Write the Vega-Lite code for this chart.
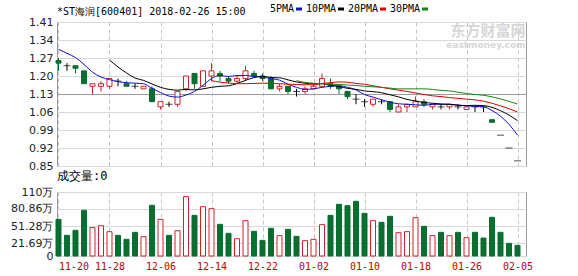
{
  "$schema": "https://vega.github.io/schema/vega-lite/v6.json",
  "background": "white",
  "padding": {"left": 10, "top": 4, "right": 5, "bottom": 2},
  "bounds": "flush",
  "spacing": 26,
  "config": {
    "view": {"stroke": "#9a9a9a", "strokeWidth": 1},
    "axisY": {"domain": false, "ticks": false, "labelPadding": 4, "labelFont": "DejaVu Sans", "labelFontSize": 11, "labelColor": "#222", "gridColor": "#d8d8d8", "title": null, "labelOverlap": false, "labelBound": false}
  },
  "data": {"values": [
    {"d":"2017-11-20","o":1.26,"h":1.27,"l":1.22,"c":1.25,"v":63.0,"dir":"down","5PMA":1.304,"10PMA":1.327,"20PMA":1.356,"30PMA":1.394},
    {"d":"2017-11-21","o":1.24,"h":1.25,"l":1.22,"c":1.24,"v":35.5,"dir":"flat","5PMA":1.288},
    {"d":"2017-11-22","o":1.24,"h":1.24,"l":1.21,"c":1.23,"v":44.1,"dir":"down","5PMA":1.272,"10PMA":1.312},
    {"d":"2017-11-23","o":1.22,"h":1.22,"l":1.17,"c":1.17,"v":78.5,"dir":"down","5PMA":1.245,"20PMA":1.327,"30PMA":1.367},
    {"d":"2017-11-24","o":1.16,"h":1.17,"l":1.13,"c":1.17,"v":48.7,"dir":"up","5PMA":1.215,"10PMA":1.290},
    {"d":"2017-11-27","o":1.16,"h":1.18,"l":1.14,"c":1.17,"v":52.1,"dir":"up","5PMA":1.196},
    {"d":"2017-11-28","o":1.16,"h":1.19,"l":1.15,"c":1.19,"v":41.8,"dir":"up","5PMA":1.186,"10PMA":1.262,"20PMA":1.298,"30PMA":1.340},
    {"d":"2017-11-29","o":1.18,"h":1.19,"l":1.16,"c":1.18,"v":35.5,"dir":"flat","5PMA":1.178,"10PMA":1.235},
    {"d":"2017-11-30","o":1.17,"h":1.18,"l":1.16,"c":1.16,"v":28.7,"dir":"down","5PMA":1.174,"10PMA":1.212},
    {"d":"2017-12-01","o":1.16,"h":1.17,"l":1.15,"c":1.16,"v":40.7,"dir":"flat","5PMA":1.172,"10PMA":1.192,"20PMA":1.272,"30PMA":1.317},
    {"d":"2017-12-04","o":1.15,"h":1.16,"l":1.15,"c":1.16,"v":33.2,"dir":"up","5PMA":1.170,"10PMA":1.183},
    {"d":"2017-12-05","o":1.15,"h":1.16,"l":1.10,"c":1.10,"v":87.1,"dir":"down","5PMA":1.152,"10PMA":1.169},
    {"d":"2017-12-06","o":1.08,"h":1.10,"l":1.07,"c":1.10,"v":63.0,"dir":"up","5PMA":1.136,"10PMA":1.156,"20PMA":1.245,"30PMA":1.293},
    {"d":"2017-12-07","o":1.09,"h":1.10,"l":1.08,"c":1.09,"v":35.5,"dir":"flat","5PMA":1.122,"10PMA":1.148},
    {"d":"2017-12-08","o":1.09,"h":1.14,"l":1.08,"c":1.14,"v":43.5,"dir":"up","5PMA":1.118,"10PMA":1.145,"20PMA":1.222,"30PMA":1.272},
    {"d":"2017-12-11","o":1.15,"h":1.20,"l":1.14,"c":1.20,"v":102.0,"dir":"up","5PMA":1.126,"10PMA":1.148},
    {"d":"2017-12-12","o":1.21,"h":1.21,"l":1.15,"c":1.17,"v":69.9,"dir":"down","5PMA":1.140,"10PMA":1.146,"20PMA":1.198,"30PMA":1.252},
    {"d":"2017-12-13","o":1.16,"h":1.22,"l":1.16,"c":1.22,"v":84.8,"dir":"up","5PMA":1.164,"10PMA":1.150},
    {"d":"2017-12-14","o":1.20,"h":1.25,"l":1.18,"c":1.22,"v":81.4,"dir":"up","5PMA":1.190,"10PMA":1.156,"20PMA":1.182,"30PMA":1.236},
    {"d":"2017-12-15","o":1.21,"h":1.22,"l":1.18,"c":1.20,"v":54.4,"dir":"down","5PMA":1.202,"10PMA":1.160,"20PMA":1.176},
    {"d":"2017-12-18","o":1.19,"h":1.20,"l":1.17,"c":1.18,"v":39.0,"dir":"down","5PMA":1.198,"10PMA":1.162,"20PMA":1.173,"30PMA":1.226},
    {"d":"2017-12-19","o":1.18,"h":1.20,"l":1.17,"c":1.19,"v":29.8,"dir":"up","5PMA":1.202,"10PMA":1.171,"20PMA":1.170},
    {"d":"2017-12-20","o":1.19,"h":1.24,"l":1.18,"c":1.22,"v":60.7,"dir":"up","5PMA":1.202,"10PMA":1.183,"20PMA":1.170,"30PMA":1.216},
    {"d":"2017-12-21","o":1.21,"h":1.22,"l":1.20,"c":1.20,"v":42.4,"dir":"down","5PMA":1.198,"10PMA":1.194,"20PMA":1.171},
    {"d":"2017-12-22","o":1.20,"h":1.21,"l":1.18,"c":1.19,"v":26.9,"dir":"down","5PMA":1.196,"10PMA":1.199,"20PMA":1.172,"30PMA":1.203},
    {"d":"2017-12-25","o":1.19,"h":1.20,"l":1.15,"c":1.15,"v":47.6,"dir":"down","5PMA":1.190,"10PMA":1.194,"20PMA":1.171},
    {"d":"2017-12-26","o":1.15,"h":1.17,"l":1.14,"c":1.16,"v":35.0,"dir":"up","5PMA":1.184,"10PMA":1.193,"20PMA":1.170,"30PMA":1.192},
    {"d":"2017-12-27","o":1.16,"h":1.16,"l":1.13,"c":1.14,"v":45.8,"dir":"down","5PMA":1.168,"10PMA":1.185,"20PMA":1.168},
    {"d":"2017-12-28","o":1.14,"h":1.15,"l":1.12,"c":1.14,"v":33.8,"dir":"flat","5PMA":1.156,"10PMA":1.177,"20PMA":1.167,"30PMA":1.182},
    {"d":"2017-12-29","o":1.14,"h":1.16,"l":1.13,"c":1.15,"v":26.4,"dir":"up","5PMA":1.148,"10PMA":1.172,"20PMA":1.166,"30PMA":1.175},
    {"d":"2018-01-02","o":1.15,"h":1.17,"l":1.15,"c":1.16,"v":28.7,"dir":"up","5PMA":1.150,"10PMA":1.170,"20PMA":1.166,"30PMA":1.172},
    {"d":"2018-01-03","o":1.16,"h":1.21,"l":1.16,"c":1.19,"v":53.9,"dir":"up","5PMA":1.156,"10PMA":1.170,"20PMA":1.171,"30PMA":1.170},
    {"d":"2018-01-04","o":1.17,"h":1.19,"l":1.15,"c":1.16,"v":69.9,"dir":"down","5PMA":1.160,"10PMA":1.164,"20PMA":1.174,"30PMA":1.168},
    {"d":"2018-01-05","o":1.16,"h":1.16,"l":1.13,"c":1.15,"v":88.8,"dir":"down","5PMA":1.162,"10PMA":1.159,"20PMA":1.177,"30PMA":1.167},
    {"d":"2018-01-08","o":1.14,"h":1.14,"l":1.11,"c":1.12,"v":86.5,"dir":"down","5PMA":1.156,"10PMA":1.152,"20PMA":1.176,"30PMA":1.165},
    {"d":"2018-01-09","o":1.11,"h":1.13,"l":1.09,"c":1.11,"v":94.0,"dir":"flat","5PMA":1.146,"10PMA":1.148,"20PMA":1.171,"30PMA":1.163},
    {"d":"2018-01-10","o":1.10,"h":1.11,"l":1.08,"c":1.10,"v":73.3,"dir":"flat","5PMA":1.128,"10PMA":1.142,"20PMA":1.168,"30PMA":1.160},
    {"d":"2018-01-11","o":1.09,"h":1.11,"l":1.08,"c":1.11,"v":60.7,"dir":"up","5PMA":1.118,"10PMA":1.139,"20PMA":1.162,"30PMA":1.158},
    {"d":"2018-01-12","o":1.10,"h":1.11,"l":1.09,"c":1.10,"v":57.9,"dir":"flat","5PMA":1.108,"10PMA":1.135,"20PMA":1.156,"30PMA":1.156},
    {"d":"2018-01-15","o":1.10,"h":1.10,"l":1.06,"c":1.07,"v":68.2,"dir":"down","5PMA":1.098,"10PMA":1.127,"20PMA":1.150,"30PMA":1.153},
    {"d":"2018-01-16","o":1.06,"h":1.09,"l":1.06,"c":1.08,"v":40.1,"dir":"up","5PMA":1.092,"10PMA":1.119,"20PMA":1.145,"30PMA":1.150},
    {"d":"2018-01-17","o":1.08,"h":1.09,"l":1.06,"c":1.09,"v":41.8,"dir":"up","5PMA":1.090,"10PMA":1.109,"20PMA":1.140,"30PMA":1.150},
    {"d":"2018-01-18","o":1.08,"h":1.12,"l":1.08,"c":1.10,"v":65.9,"dir":"up","5PMA":1.088,"10PMA":1.103,"20PMA":1.134,"30PMA":1.150},
    {"d":"2018-01-19","o":1.10,"h":1.11,"l":1.08,"c":1.09,"v":51.0,"dir":"down","5PMA":1.086,"10PMA":1.097,"20PMA":1.128,"30PMA":1.150},
    {"d":"2018-01-22","o":1.08,"h":1.09,"l":1.07,"c":1.09,"v":35.0,"dir":"up","5PMA":1.090,"10PMA":1.094,"20PMA":1.123,"30PMA":1.148},
    {"d":"2018-01-23","o":1.08,"h":1.09,"l":1.07,"c":1.08,"v":40.7,"dir":"flat","5PMA":1.090,"10PMA":1.091,"20PMA":1.120,"30PMA":1.144},
    {"d":"2018-01-24","o":1.08,"h":1.09,"l":1.07,"c":1.09,"v":35.0,"dir":"up","5PMA":1.090,"10PMA":1.090,"20PMA":1.116,"30PMA":1.142},
    {"d":"2018-01-25","o":1.08,"h":1.09,"l":1.07,"c":1.08,"v":40.7,"dir":"flat","5PMA":1.086,"10PMA":1.087,"20PMA":1.113,"30PMA":1.137},
    {"d":"2018-01-26","o":1.07,"h":1.08,"l":1.07,"c":1.08,"v":31.5,"dir":"up","5PMA":1.084,"10PMA":1.085,"20PMA":1.110,"30PMA":1.132},
    {"d":"2018-01-29","o":1.08,"h":1.08,"l":1.06,"c":1.08,"v":40.7,"dir":"flat","5PMA":1.082,"10PMA":1.086,"20PMA":1.107,"30PMA":1.128},
    {"d":"2018-01-30","o":1.08,"h":1.08,"l":1.06,"c":1.08,"v":30.9,"dir":"flat","5PMA":1.080,"10PMA":1.085,"20PMA":1.102,"30PMA":1.125},
    {"d":"2018-01-31","o":1.03,"h":1.03,"l":1.02,"c":1.02,"v":66.5,"dir":"down","5PMA":1.066,"10PMA":1.078,"20PMA":1.094,"30PMA":1.119},
    {"d":"2018-02-01","o":0.97,"h":0.97,"l":0.97,"c":0.97,"v":40.7,"dir":"flat","5PMA":1.044,"10PMA":1.065,"20PMA":1.084,"30PMA":1.111},
    {"d":"2018-02-02","o":0.92,"h":0.92,"l":0.92,"c":0.92,"v":21.8,"dir":"flat","5PMA":1.012,"10PMA":1.048,"20PMA":1.073,"30PMA":1.101},
    {"d":"2018-02-05","o":0.87,"h":0.87,"l":0.87,"c":0.87,"v":18.3,"dir":"flat","5PMA":0.970,"10PMA":1.026,"20PMA":1.060,"30PMA":1.091}
  ]},
  "resolve": {"scale": {"x": "independent"}},
  "vconcat": [
    {
      "width": 469,
      "height": 144,
      "title": {"text": "*ST海润[600401] 2018-02-26 15:00", "anchor": "start", "frame": "group", "font": "DejaVu Sans Mono", "fontSize": 10, "fontWeight": "normal", "color": "#000", "offset": -9, "baseline": "alphabetic"},
      "encoding": {
        "x": {"field": "d", "type": "ordinal", "scale": {"type": "point", "padding": 0.588, "align": 0.15},
          "axis": {"labels": false, "ticks": false, "domain": false, "grid": true, "gridDash": [4, 3], "gridColor": "#c4c4c4", "title": null,
            "values": ["2017-11-20","2017-11-28","2017-12-06","2017-12-14","2017-12-22","2018-01-02","2018-01-10","2018-01-18","2018-01-26","2018-02-05"]}}
      },
      "layer": [
        {
          "mark": {"type": "rule", "strokeWidth": 1},
          "encoding": {
            "y": {"field": "l", "type": "quantitative", "scale": {"domain": [0.85, 1.41], "nice": false, "zero": false},
              "axis": {"values": [0.85, 0.92, 0.99, 1.06, 1.13, 1.2, 1.27, 1.34, 1.41], "tickCount": 20, "labelOverlap": false, "format": ".2f",
                "gridColor": {"condition": {"test": "abs(datum.value - 1.13) < 0.001", "value": "#9a9a9a"}, "value": "#d8d8d8"}}},
            "y2": {"field": "h"},
            "color": {"condition": [{"test": "datum.dir === 'up'", "value": "#d0202a"}, {"test": "datum.dir === 'down'", "value": "#0a6e31"}], "value": "#000000"}
          }
        },
        {
          "transform": [{"filter": "datum.dir !== 'flat'"}],
          "mark": {"type": "bar", "size": 5, "strokeWidth": 1},
          "encoding": {
            "y": {"field": "o", "type": "quantitative"},
            "y2": {"field": "c"},
            "fill": {"condition": {"test": "datum.dir === 'up'", "value": "#ffffff"}, "value": "#0a6e31"},
            "stroke": {"condition": {"test": "datum.dir === 'up'", "value": "#d0202a"}, "value": "#0a6e31"}
          }
        },
        {
          "transform": [{"filter": "datum.dir === 'flat'"}],
          "mark": {"type": "tick", "size": 7, "thickness": 1, "color": "#000000"},
          "encoding": {"y": {"field": "c", "type": "quantitative"}}
        },
        {
          "transform": [{"fold": ["5PMA", "10PMA", "20PMA", "30PMA"], "as": ["ma", "p"]}],
          "mark": {"type": "line", "strokeWidth": 1, "interpolate": "monotone"},
          "encoding": {
            "y": {"field": "p", "type": "quantitative"},
            "color": {"field": "ma", "type": "nominal",
              "scale": {"domain": ["5PMA", "10PMA", "20PMA", "30PMA"], "range": ["#1010c8", "#000000", "#e00000", "#118811"]},
              "legend": {"orient": "none", "legendX": 237, "legendY": -18, "direction": "horizontal", "title": null, "padding": 0,
                "labelFont": "DejaVu Sans Mono", "labelFontSize": 10, "labelColor": "#000",
                "symbolType": "stroke", "symbolStrokeWidth": 3, "symbolSize": 36,
                "labelAlign": "right", "labelOffset": -10, "columnPadding": -3}}
          }
        },
        {
          "data": {"values": [{"t": "东方财富网"}]},
          "mark": {"type": "text", "font": "Noto Sans CJK SC", "fontSize": 15, "fontWeight": "bold", "color": "#d6d6d6", "align": "right", "baseline": "alphabetic", "dx": 8},
          "encoding": {"x": {"datum": "2018-02-05"}, "y": {"datum": 1.355}, "text": {"field": "t"}}
        },
        {
          "data": {"values": [{"t": "eastmoney.com"}]},
          "mark": {"type": "text", "font": "DejaVu Sans", "fontSize": 9, "fontWeight": "bold", "color": "#d6d6d6", "align": "right", "baseline": "alphabetic", "dx": 8},
          "encoding": {"x": {"datum": "2018-02-05"}, "y": {"datum": 1.31}, "text": {"field": "t"}}
        }
      ]
    },
    {
      "width": 469,
      "height": 64,
      "title": {"text": "成交量:0", "anchor": "start", "frame": "group", "font": "DejaVu Sans Mono", "fontSize": 12, "fontWeight": "normal", "color": "#000", "offset": -6, "baseline": "alphabetic"},
      "mark": {"type": "bar", "size": 5, "strokeWidth": 1},
      "encoding": {
        "x": {"field": "d", "type": "ordinal", "scale": {"type": "point", "padding": 0.588, "align": 0.15},
          "axis": {"title": null, "ticks": false, "domain": false, "grid": true, "gridDash": [4, 3], "gridColor": "#c4c4c4",
            "labelAngle": 0, "labelFont": "DejaVu Sans Mono", "labelFontSize": 10, "labelColor": "#c40000", "labelPadding": 5,
            "labelExpr": "substring(datum.label, 5)",
            "labelAlign": {"condition": {"test": "datum.value === '2017-11-20'", "value": "left"}, "value": "center"},
            "values": ["2017-11-20","2017-11-28","2017-12-06","2017-12-14","2017-12-22","2018-01-02","2018-01-10","2018-01-18","2018-01-26","2018-02-05"]}},
        "y": {"field": "v", "type": "quantitative", "scale": {"domain": [0, 110], "nice": false},
          "axis": {"values": [0, 21.69, 51.28, 80.86, 110], "tickCount": 20, "labelOverlap": false, "format": ".4~r", "labelExpr": "datum.value === 0 ? '0' : datum.label + '万'"}},
        "fill": {"condition": {"test": "datum.dir === 'up'", "value": "#ffffff"}, "value": "#0a6e31"},
        "stroke": {"condition": {"test": "datum.dir === 'up'", "value": "#d0202a"}, "value": "#0a6e31"}
      }
    }
  ]
}
